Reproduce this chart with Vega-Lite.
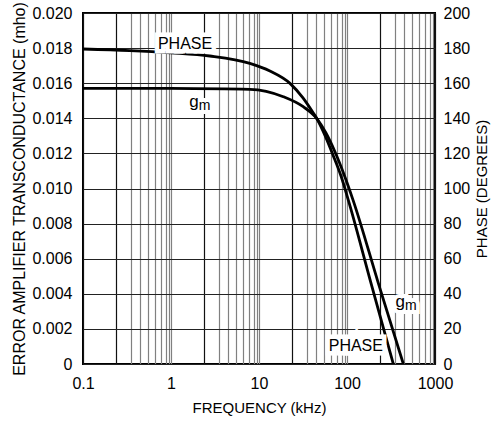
{
  "$schema": "https://vega.github.io/schema/vega-lite/v6.json",
  "width": 352,
  "height": 351,
  "autosize": "none",
  "padding": {"left": 83, "top": 13, "right": 56, "bottom": 59},
  "background": "white",
  "config": {
    "font": "Liberation Sans, Arial, sans-serif",
    "view": {"stroke": "black", "strokeWidth": 2},
    "axis": {
      "labelFontSize": 16,
      "titleFontSize": 15,
      "titleFontWeight": "normal",
      "labelColor": "black",
      "titleColor": "black",
      "labelOverlap": false,
      "labelFlush": false,
      "ticks": false,
      "domain": false
    }
  },
  "datasets": {
    "gm": [
      {"f": 0.1, "gm": 0.01571}, {"f": 1, "gm": 0.0157}, {"f": 7.87, "gm": 0.01565},
      {"f": 18.9, "gm": 0.01523}, {"f": 31.8, "gm": 0.01466}, {"f": 45.2, "gm": 0.014},
      {"f": 57.7, "gm": 0.01316}, {"f": 73.1, "gm": 0.01208}, {"f": 92.5, "gm": 0.0108},
      {"f": 117.2, "gm": 0.00934}, {"f": 225, "gm": 0.00467}, {"f": 437, "gm": 0}
    ],
    "phase": [
      {"f": 0.1, "phase": 179.5}, {"f": 0.34, "phase": 178.6}, {"f": 1, "phase": 177.3},
      {"f": 2.76, "phase": 175.5}, {"f": 7.87, "phase": 171.3}, {"f": 13.3, "phase": 166.95},
      {"f": 22.5, "phase": 159.9}, {"f": 31.6, "phase": 151.6}, {"f": 41.4, "phase": 143.0},
      {"f": 45.2, "phase": 140.0}, {"f": 53.3, "phase": 132.8}, {"f": 69.3, "phase": 119.1},
      {"f": 85.5, "phase": 107.1}, {"f": 103.5, "phase": 93.4}, {"f": 186, "phase": 46.7},
      {"f": 336, "phase": 0}
    ],
    "phaseLabels": [
      {"f": 1.445, "v": 0.01825, "t": "PHASE"},
      {"f": 126, "v": 0.00104, "t": "PHASE"}
    ],
    "gmLabels": [
      {"f": 2.07, "v": 0.01486},
      {"f": 457, "v": 0.00345}
    ]
  },
  "layer": [
    {
      "data": {"name": "gm"},
      "mark": {"type": "line", "color": "black", "strokeWidth": 2.8, "interpolate": "monotone", "clip": true},
      "encoding": {
        "x": {
          "field": "f", "type": "quantitative",
          "scale": {"type": "log", "domain": [0.1, 1000], "nice": false},
          "axis": {
            "orient": "bottom",
            "title": "FREQUENCY (kHz)",
            "values": [0.1, 0.24, 0.347, 0.439, 0.548, 0.658, 0.769, 0.877, 0.96,
                       1, 2.4, 3.47, 4.39, 5.48, 6.58, 7.69, 8.77, 9.6,
                       10, 24, 34.7, 43.9, 54.8, 65.8, 76.9, 87.7, 96,
                       100, 240, 347, 439, 548, 658, 769, 877, 960, 1000],
            "labelExpr": "indexof([0.1, 1, 10, 100, 1000], datum.value) >= 0 ? format(datum.value, '~g') : ''",
            "labelOverlap": false,
            "labelFlush": false,
            "labelPadding": 11,
            "titlePadding": 9,
            "grid": true,
            "gridWidth": 1.2,
            "gridColor": {"condition": {"test": "indexof([0.1, 0.24, 2.4, 24, 240, 1000], datum.value) >= 0", "value": "#111111"}, "value": "#808080"}
          }
        },
        "y": {
          "field": "gm", "type": "quantitative",
          "scale": {"domain": [0, 0.02], "nice": false, "zero": true},
          "axis": {
            "orient": "left",
            "title": "ERROR AMPLIFIER TRANSCONDUCTANCE (mho)",
            "titleFontSize": 16,
            "values": [0, 0.002, 0.004, 0.006, 0.008, 0.01, 0.012, 0.014, 0.016, 0.018, 0.02],
            "labelExpr": "datum.value == 0 ? '0' : format(datum.value, '.3f')",
            "labelOverlap": false,
            "labelFlush": false,
            "labelPadding": 11,
            "titlePadding": 4,
            "grid": true,
            "gridColor": "#222222",
            "gridWidth": 1.2
          }
        }
      }
    },
    {
      "data": {"name": "phase"},
      "mark": {"type": "line", "color": "black", "strokeWidth": 2.8, "interpolate": "monotone", "clip": true},
      "encoding": {
        "x": {"field": "f", "type": "quantitative"},
        "y": {
          "field": "phase", "type": "quantitative",
          "scale": {"domain": [0, 200], "nice": false},
          "axis": {
            "orient": "right",
            "title": "PHASE (DEGREES)",
            "titleAngle": 270,
            "titleBaseline": "top",
            "values": [0, 20, 40, 60, 80, 100, 120, 140, 160, 180, 200],
            "labelOverlap": false,
            "labelPadding": 8,
            "titlePadding": 5,
            "grid": false
          }
        }
      }
    },
    {
      "data": {"name": "phaseLabels"},
      "mark": {"type": "text", "fontSize": 16, "stroke": "white", "strokeWidth": 9, "fill": "white", "align": "center", "baseline": "middle"},
      "encoding": {
        "x": {"field": "f", "type": "quantitative"},
        "y": {"field": "v", "type": "quantitative", "scale": {"domain": [0, 0.02], "nice": false}, "axis": null},
        "text": {"field": "t"}
      }
    },
    {
      "data": {"name": "phaseLabels"},
      "mark": {"type": "text", "fontSize": 16, "color": "black", "align": "center", "baseline": "middle"},
      "encoding": {
        "x": {"field": "f", "type": "quantitative"},
        "y": {"field": "v", "type": "quantitative", "scale": {"domain": [0, 0.02], "nice": false}, "axis": null},
        "text": {"field": "t"}
      }
    },
    {
      "data": {"name": "gmLabels"},
      "mark": {"type": "text", "fontSize": 17, "text": "g", "stroke": "white", "strokeWidth": 8, "fill": "white", "align": "right", "baseline": "middle", "dy": -1},
      "encoding": {
        "x": {"field": "f", "type": "quantitative"},
        "y": {"field": "v", "type": "quantitative", "scale": {"domain": [0, 0.02], "nice": false}, "axis": null}
      }
    },
    {
      "data": {"name": "gmLabels"},
      "mark": {"type": "text", "fontSize": 14, "text": "m", "stroke": "white", "strokeWidth": 8, "fill": "white", "align": "left", "baseline": "middle", "dy": 3},
      "encoding": {
        "x": {"field": "f", "type": "quantitative"},
        "y": {"field": "v", "type": "quantitative", "scale": {"domain": [0, 0.02], "nice": false}, "axis": null}
      }
    },
    {
      "data": {"name": "gmLabels"},
      "mark": {"type": "text", "fontSize": 17, "text": "g", "color": "black", "align": "right", "baseline": "middle", "dy": -1},
      "encoding": {
        "x": {"field": "f", "type": "quantitative"},
        "y": {"field": "v", "type": "quantitative", "scale": {"domain": [0, 0.02], "nice": false}, "axis": null}
      }
    },
    {
      "data": {"name": "gmLabels"},
      "mark": {"type": "text", "fontSize": 14, "text": "m", "color": "black", "align": "left", "baseline": "middle", "dy": 3},
      "encoding": {
        "x": {"field": "f", "type": "quantitative"},
        "y": {"field": "v", "type": "quantitative", "scale": {"domain": [0, 0.02], "nice": false}, "axis": null}
      }
    }
  ],
  "resolve": {"scale": {"y": "independent"}}
}
